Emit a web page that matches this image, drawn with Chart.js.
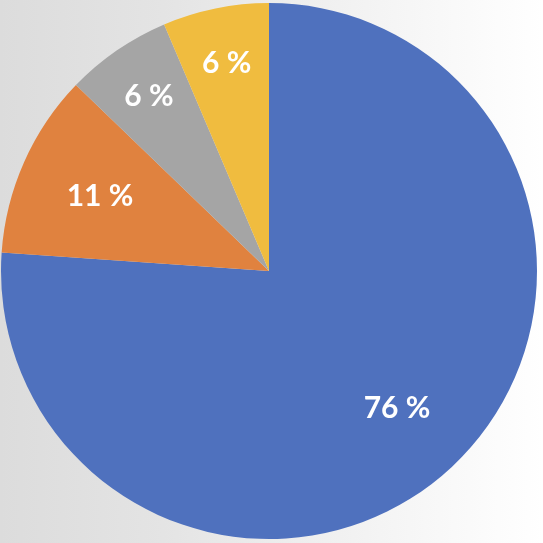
<!DOCTYPE html>
<html>
<head>
<meta charset="utf-8">
<script src="https://cdn.jsdelivr.net/npm/chart.js@4/dist/chart.umd.min.js"></script>
<style>
  html, body { margin: 0; padding: 0; }
  body {
    width: 543px; height: 543px; overflow: hidden;
    background: linear-gradient(90deg, #dcdcdc 0%, #e4e4e4 30%, #f4f4f4 70%, #ffffff 100%);
  }
  #wrap { position: absolute; left: 0; top: 0; width: 543px; height: 543px; }
</style>
</head>
<body>
<div id="wrap"><canvas id="c" width="543" height="543"></canvas></div>
<script>
const categories = ['A', 'B', 'C', 'D'];
const values = [76.1, 11.1, 6.4, 6.4];
const colors = ['#4F71BE', '#E0823F', '#A5A5A5', '#F0BC3F'];

const labelPlugin = {
  id: 'sliceLabels',
  afterDatasetsDraw(chart, args, opts) {
    const ctx = chart.ctx;
    const meta = chart.getDatasetMeta(0);
    const total = values.reduce((a, b) => a + b, 0);
    ctx.save();
    ctx.font = 'bold 30px Lato, "Open Sans", sans-serif';
    ctx.fillStyle = '#ffffff';
    ctx.textAlign = 'center';
    ctx.textBaseline = 'middle';
    meta.data.forEach((arc, i) => {
      const p = arc.getProps(['x', 'y', 'startAngle', 'endAngle', 'outerRadius'], true);
      const mid = (p.startAngle + p.endAngle) / 2;
      const r = p.outerRadius * opts.radiusFrac[i];
      const x = p.x + Math.cos(mid) * r;
      const y = p.y + Math.sin(mid) * r;
      const pct = Math.round(values[i] / total * 100);
      ctx.fillText(pct + ' %', x, y);
    });
    ctx.restore();
  }
};

new Chart(document.getElementById('c'), {
  type: 'pie',
  data: {
    labels: categories,
    datasets: [{
      data: values,
      backgroundColor: colors,
      borderWidth: 0
    }]
  },
  options: {
    responsive: false,
    animation: false,
    layout: { padding: { left: 1, right: 6, top: 3, bottom: 4 } },
    plugins: {
      legend: { display: false },
      tooltip: { enabled: false },
      sliceLabels: { radiusFrac: [0.70, 0.69, 0.79, 0.79] }
    }
  },
  plugins: [labelPlugin]
});
</script>
</body>
</html>
